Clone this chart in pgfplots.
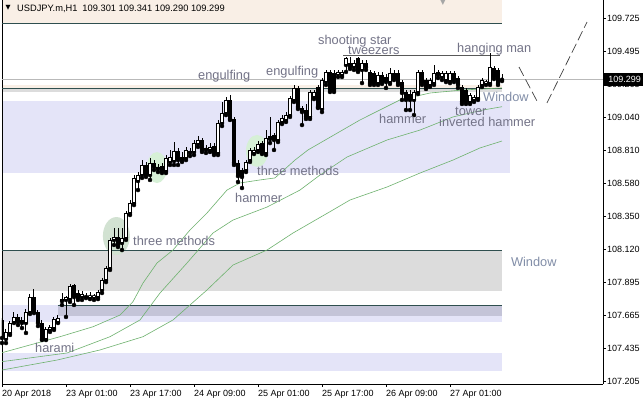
\documentclass[border=0pt]{standalone}
\usepackage{pgfplots}
\pgfplotsset{compat=1.18}
\usepackage{pgfplotstable}
\usepackage{fontspec}
\setmainfont{Liberation Sans}
\newfontfamily\dejavu{DejaVu Sans}
\usetikzlibrary{backgrounds}
\definecolor{peach}{RGB}{249,239,230}
\definecolor{lav}{RGB}{228,228,248}
\definecolor{lavdark}{RGB}{196,196,216}
\definecolor{gainsb}{RGB}{220,220,220}
\definecolor{dslate}{RGB}{47,79,79}
\definecolor{magr}{RGB}{110,178,110}
\definecolor{lbl}{RGB}{115,115,135}
\definecolor{win}{RGB}{130,142,168}
\definecolor{egreen}{RGB}{214,240,214}
\definecolor{egreen2}{RGB}{210,226,210}
\tikzset{lab/.style={anchor=base west, inner sep=0pt, text=lbl, font=\fontsize{12.8}{14}\selectfont}}

\pgfplotstableread{
i o h l c
1 107.501 107.570 107.473 107.550
2 107.543 107.626 107.529 107.612
3 107.619 107.688 107.612 107.654
6 107.612 107.709 107.543 107.688
7 107.688 107.813 107.675 107.792
11 107.501 107.584 107.494 107.570
12 107.564 107.598 107.550 107.584
13 107.577 107.654 107.564 107.640
14 107.619 107.668 107.612 107.647
16 107.772 107.799 107.654 107.792
17 107.778 107.882 107.758 107.868
20 107.792 107.834 107.772 107.813
22 107.792 107.827 107.778 107.799
23 107.792 107.813 107.772 107.799
24 107.792 107.841 107.778 107.827
25 107.841 107.924 107.820 107.910
26 107.910 108.007 107.896 107.993
27 107.993 108.202 107.980 108.188
28 108.188 108.271 108.153 108.208
30 108.167 108.271 108.118 108.202
31 108.202 108.389 108.188 108.375
32 108.375 108.465 108.361 108.444
33 108.444 108.638 108.430 108.618
34 108.597 108.659 108.534 108.638
35 108.638 108.742 108.618 108.708
37 108.638 108.756 108.604 108.722
41 108.666 108.777 108.652 108.756
42 108.729 108.812 108.708 108.763
43 108.736 108.867 108.708 108.805
46 108.756 108.833 108.742 108.812
48 108.798 108.881 108.777 108.860
49 108.853 108.909 108.833 108.881
52 108.812 108.860 108.798 108.833
54 108.791 109.020 108.777 108.999
55 108.999 109.145 108.978 109.068
56 109.068 109.179 109.054 109.159
61 108.673 108.742 108.659 108.729
62 108.742 108.826 108.729 108.812
63 108.798 108.833 108.784 108.812
64 108.812 108.874 108.798 108.853
66 108.791 108.951 108.777 108.895
69 108.881 109.020 108.867 109.006
70 109.006 109.054 108.992 109.034
71 109.020 109.075 109.006 109.054
72 109.054 109.186 109.041 109.172
73 109.159 109.263 109.145 109.242
77 109.041 109.228 109.027 109.214
78 109.179 109.228 109.165 109.214
80 109.096 109.311 109.075 109.297
81 109.283 109.367 109.263 109.353
84 109.339 109.367 109.318 109.353
85 109.332 109.367 109.318 109.353
86 109.401 109.457 109.353 109.450
88 109.387 109.436 109.367 109.415
90 109.367 109.436 109.276 109.415
94 109.276 109.353 109.263 109.332
97 109.283 109.380 109.270 109.346
103 109.159 109.228 109.054 109.214
104 109.214 109.367 109.200 109.353
107 109.263 109.311 109.249 109.297
108 109.276 109.401 109.263 109.346
110 109.318 109.360 109.297 109.346
111 109.297 109.360 109.283 109.346
112 109.290 109.360 109.276 109.346
117 109.145 109.207 109.131 109.193
118 109.159 109.193 109.145 109.179
119 109.172 109.263 109.159 109.249
120 109.263 109.311 109.249 109.297
121 109.276 109.297 109.263 109.283
122 109.276 109.484 109.263 109.387
}\bull

\pgfplotstableread{
i o h l c
0 107.633 107.647 107.473 107.508
4 107.654 107.675 107.598 107.619
5 107.633 107.654 107.577 107.612
8 107.792 107.847 107.681 107.688
9 107.688 107.702 107.591 107.612
10 107.612 107.633 107.494 107.501
15 107.778 107.820 107.737 107.764
18 107.875 107.882 107.737 107.792
19 107.820 107.841 107.772 107.785
21 107.799 107.820 107.785 107.792
29 108.208 108.271 108.139 108.153
36 108.708 108.729 108.625 108.638
38 108.722 108.742 108.673 108.694
39 108.694 108.715 108.659 108.680
40 108.701 108.722 108.652 108.666
44 108.805 108.826 108.708 108.742
45 108.763 108.798 108.729 108.742
47 108.805 108.826 108.770 108.791
50 108.881 108.895 108.798 108.812
51 108.826 108.846 108.791 108.812
53 108.839 108.860 108.777 108.791
57 109.159 109.193 109.020 109.027
58 109.027 109.041 108.708 108.722
59 108.722 108.742 108.590 108.631
60 108.673 108.687 108.548 108.625
65 108.860 108.874 108.784 108.798
67 108.909 109.041 108.860 108.888
68 108.916 108.930 108.812 108.881
74 109.242 109.256 109.096 109.110
75 109.103 109.117 108.985 109.075
76 109.089 109.131 109.027 109.041
79 109.249 109.263 109.103 109.110
82 109.353 109.367 109.214 109.228
83 109.346 109.367 109.214 109.228
87 109.415 109.457 109.374 109.387
89 109.450 109.457 109.353 109.367
91 109.415 109.436 109.367 109.387
92 109.353 109.367 109.263 109.276
93 109.346 109.360 109.263 109.276
95 109.332 109.353 109.270 109.283
96 109.318 109.339 109.242 109.283
98 109.346 109.367 109.297 109.311
99 109.346 109.367 109.263 109.276
100 109.283 109.297 109.159 109.207
101 109.214 109.228 109.089 109.159
102 109.200 109.228 109.089 109.159
105 109.353 109.367 109.263 109.276
106 109.297 109.311 109.235 109.249
109 109.353 109.367 109.311 109.332
113 109.346 109.360 109.283 109.297
114 109.311 109.325 109.242 109.263
115 109.249 109.263 109.131 109.145
116 109.228 109.242 109.131 109.145
123 109.380 109.394 109.304 109.318
124 109.367 109.380 109.263 109.276
125 109.301 109.341 109.290 109.299
}\bear

\begin{document}
\begin{tikzpicture}[show background rectangle, inner frame sep=0pt, background rectangle/.style={fill=white, draw=none}]
\begin{axis}[name=ax, scale only axis, width=601pt, height=384pt,
  xmin=0, xmax=150.25, ymin=107.189, ymax=109.852,
  clip mode=individual,
  axis x line*=bottom, axis y line*=right,
  axis line style={black, line width=0.8pt, -},
  xtick={0,16,32,48,64,80,96,112},
  xticklabels={20 Apr 2018, 23 Apr 01:00, 23 Apr 17:00, 24 Apr 09:00, 25 Apr 01:00, 25 Apr 17:00, 26 Apr 09:00, 27 Apr 01:00},
  ytick={109.725,109.495,109.265,109.040,108.810,108.580,108.350,108.120,107.895,107.665,107.435,107.205},
  yticklabels={109.725,109.495,109.265,109.040,108.810,108.580,108.350,108.120,107.895,107.665,107.435,107.205},
  tick align=outside, major tick length=3pt, tick style={black, line width=0.6pt},
  xticklabel style={anchor=north west, inner sep=0pt, yshift=-3pt, font=\fontsize{9}{10}\selectfont},
  yticklabel style={anchor=west, inner sep=0pt, xshift=1pt, font=\fontsize{9}{10}\selectfont},
]
% background rectangles
\addplot[fill=peach, draw=none] coordinates {(0,109.86) (125,109.86) (125,109.686) (0,109.686)} -- cycle;
\addplot[fill=peach, draw=none] coordinates {(0,109.263) (125,109.263) (125,109.238) (0,109.238)} -- cycle;
\addplot[fill=gainsb, draw=none] coordinates {(0,109.238) (125,109.238) (125,109.217) (0,109.217)} -- cycle;
\addplot[fill=lav, draw=none] coordinates {(0,109.152) (127,109.152) (127,108.652) (0,108.652)} -- cycle;
\addplot[fill=gainsb, draw=none] coordinates {(0,108.113) (125,108.113) (125,107.836) (0,107.836)} -- cycle;
\addplot[fill=lav, draw=none] coordinates {(0,107.737) (125,107.737) (125,107.619) (0,107.619)} -- cycle;
\addplot[fill=lavdark, draw=none] coordinates {(14,107.737) (125,107.737) (125,107.661) (14,107.661)} -- cycle;
\addplot[fill=lav, draw=none] coordinates {(0,107.404) (125,107.404) (125,107.281) (0,107.281)} -- cycle;
% left frame line
\addplot[black, line width=0.8pt] coordinates {(0,107.189) (0,109.852)};
% highlight ellipses
\fill[egreen2] (axis cs:28.6,108.215) ellipse [x radius=13.5pt, y radius=19pt];
\fill[egreen] (axis cs:38.75,108.690) ellipse [x radius=10pt, y radius=15.5pt];
\fill[egreen] (axis cs:63.75,108.805) ellipse [x radius=11pt, y radius=16pt];
% rectangle top lines
\addplot[dslate, line width=0.9pt] coordinates {(0,109.686) (125,109.686)};
\addplot[dslate, line width=0.9pt] coordinates {(0,109.238) (125,109.238)};
\addplot[dslate, line width=0.9pt] coordinates {(0,108.113) (125,108.113)};
\addplot[dslate, line width=0.9pt] coordinates {(14,107.737) (125,107.737)};
% bid line
\addplot[gray!55, line width=0.8pt] coordinates {(0,109.299) (150.25,109.299)};
% moving averages
\addplot[magr, line width=0.6pt] coordinates {(0,107.406) (14.5,107.517) (22.75,107.586) (29.5,107.667) (32.75,107.760) (35.25,107.889) (38.75,108.028) (42.75,108.118) (47,108.257) (51.25,108.375) (56.25,108.534) (59.5,108.583) (64.5,108.604) (68.25,108.618) (73.25,108.742) (76.5,108.812) (79.5,108.860) (89.5,109.020) (99.5,109.159) (107,109.207) (115.25,109.228) (125,109.242)};
\addplot[magr, line width=0.6pt] coordinates {(0,107.344) (16.25,107.404) (27,107.517) (34.5,107.633) (39.5,107.820) (46.25,108.028) (52.75,108.236) (57.75,108.326) (66.25,108.416) (74.5,108.534) (79.5,108.638) (86.25,108.763) (96.25,108.881) (104.5,108.950) (112.75,109.041) (120.25,109.089) (125,109.112)};
\addplot[magr, line width=0.6pt] coordinates {(0,107.286) (13.75,107.355) (24.5,107.425) (35.25,107.517) (42.75,107.633) (51.25,107.841) (57.75,108.014) (66.25,108.118) (72.75,108.236) (82,108.384) (87,108.465) (96.25,108.555) (104.5,108.652) (112.75,108.742) (119.5,108.826) (125,108.874)};
% tweezers line
\addplot[black!65, line width=0.9pt] coordinates {(85.25,109.464) (124.5,109.464)};
% projected path
\addplot[black!75, line width=0.7pt, dash pattern=on 10pt off 4pt] coordinates {(129.25,109.387) (134,109.138)};
\addplot[black!75, line width=0.7pt, dash pattern=on 10pt off 4pt] coordinates {(136.25,109.138) (146.25,109.699)};
% wicks
\addplot[only marks, mark=none, black, error bars/.cd, y dir=plus, y explicit, error mark=none, error bar style={draw=black, line width=1pt}]
  table[x=i, y=l, y error plus expr={\thisrow{h}-\thisrow{l}}] {\bull};
\addplot[only marks, mark=none, black, error bars/.cd, y dir=plus, y explicit, error mark=none, error bar style={draw=black, line width=1pt}]
  table[x=i, y=l, y error plus expr={\thisrow{h}-\thisrow{l}}] {\bear};
% bodies
\addplot[only marks, mark=none, black, error bars/.cd, y dir=plus, y explicit, error mark=none, error bar style={draw=black, line width=3.2pt}]
  table[x=i, y=c, y error plus expr={\thisrow{o}-\thisrow{c}}] {\bear};
\addplot[only marks, mark=none, black, error bars/.cd, y dir=plus, y explicit, error mark=none, error bar style={draw=black, line width=3.2pt}]
  table[x=i, y=o, y error plus expr={\thisrow{c}-\thisrow{o}}] {\bull};
% white interior of rising candles
\addplot[white, mark=none, line width=1.4pt, shorten >=0.9pt, shorten <=0.9pt,
  quiver={u=0, v=\thisrow{c}-\thisrow{o}}]
  table[x=i, y=o] {\bull};
% pattern labels
\node[lab] at (axis cs:49,109.301) {engulfing};
\node[lab] at (axis cs:66,109.325) {engulfing};
\node[lab] at (axis cs:79,109.540) {shooting star};
\node[lab] at (axis cs:86.5,109.477) {tweezers};
\node[lab] at (axis cs:113.75,109.487) {hanging man};
\node[lab] at (axis cs:94.25,108.997) {hammer};
\node[lab] at (axis cs:113.25,109.048) {tower};
\node[lab] at (axis cs:109.25,108.978) {inverted hammer};
\node[lab, text=win] at (axis cs:120.25,109.145) {Window};
\node[lab] at (axis cs:63.75,108.635) {three methods};
\node[lab] at (axis cs:58.25,108.451) {hammer};
\node[lab] at (axis cs:32.75,108.148) {three methods};
\node[lab] at (axis cs:8.25,107.409) {harami};
\node[lab, text=win] at (axis cs:127.2,108.007) {Window};
% header
\node[anchor=base west, inner sep=0pt, font=\fontsize{9.3}{10}\selectfont] at (axis cs:3.75,109.772) {USDJPY.m,H1\hspace{5pt}109.301 109.341 109.290 109.299};
\node[inner sep=0pt, font=\dejavu\fontsize{6.5}{7}\selectfont] at (axis cs:1.5,109.797) {▼};
\node[inner sep=0pt, anchor=north, text=black!35, font=\dejavu\fontsize{8}{8}\selectfont] at (axis cs:110.25,109.855) {▼};
% current price box
\node[anchor=west, fill=black, text=white, inner sep=0pt, minimum height=12.5pt, minimum width=40pt, font=\fontsize{9}{10}\selectfont] at (axis cs:150.25,109.299) {\hspace{3pt}109.299\hfill};
\end{axis}
\pgfresetboundingbox
\path ([xshift=-2pt,yshift=-22pt]ax.south west) rectangle ([xshift=40pt]ax.north east);
\end{tikzpicture}
\end{document}
